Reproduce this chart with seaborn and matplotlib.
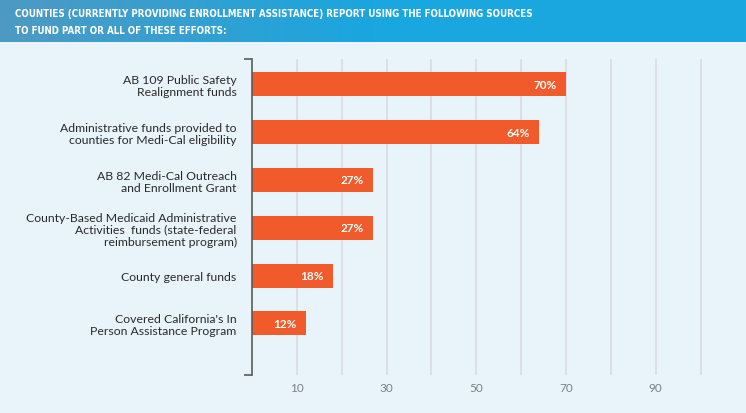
import numpy as np
import pandas as pd
import seaborn as sns
import matplotlib.pyplot as plt
from matplotlib import font_manager as fm
from matplotlib.colors import LinearSegmentedColormap

# values
sources = [
    "AB 109 Public Safety\nRealignment funds",
    "Administrative funds provided to\ncounties for Medi-Cal eligibility",
    "AB 82 Medi-Cal Outreach\nand Enrollment Grant",
    "County-Based Medicaid Administrative\nActivities  funds (state-federal\nreimbursement program)",
    "County general funds",
    "Covered California's In\nPerson Assistance Program",
]
percents = [70, 64, 27, 27, 18, 12]
major_ticks = [10, 30, 50, 70, 90]
minor_ticks = [20, 40, 60, 80, 100]

title = ("COUNTIES (CURRENTLY PROVIDING ENROLLMENT ASSISTANCE) REPORT USING THE FOLLOWING SOURCES\n"
         "TO FUND PART OR ALL OF THESE EFFORTS:")

BG = "#e9f4fa"
BAR = "#f15a2b"

sns.set_theme(style="white")
plt.rcParams["font.family"] = ["Lato", "DejaVu Sans"]

# the header uses a condensed bold face; look for one that is installed
narrow = [f for f in fm.fontManager.ttflist
          if ("Narrow" in f.name or "Condensed" in f.name or "ondensed" in str(f.stretch))
          and f.weight in ("bold", 700, 600, "semibold")]
if narrow:
    title_font = fm.FontProperties(fname=narrow[0].fname, size=7.0)
else:
    title_font = fm.FontProperties(family="Lato", weight="bold", size=7.2)

df = pd.DataFrame({"source": sources, "pct": percents})

fig = plt.figure(figsize=(7.46, 4.14), dpi=100, facecolor=BG)

# header band with gradient
hdr = fig.add_axes([0, 1 - 43 / 414, 1, 43 / 414])
grad = np.linspace(0, 1, 256).reshape(1, -1)
cmap = LinearSegmentedColormap.from_list("hdr", ["#4d9ac3", "#1aa6df", "#1ba8e0"])
hdr.imshow(grad, aspect="auto", cmap=cmap, extent=[0, 1, 0, 1])
hdr.set_axis_off()
fig.text(15 / 746, 1 - 9 / 414, title, color="white", fontproperties=title_font,
         va="top", ha="left", linespacing=1.85)

ax = fig.add_axes([252 / 746, 1 - 376 / 414, (723 - 252) / 746, (376 - 60) / 414])
ax.set_facecolor(BG)
sns.barplot(data=df, x="pct", y="source", orient="h", color=BAR, width=0.5,
            saturation=1, edgecolor="none", ax=ax, zorder=3)

ax.set_xlim(0, 105)
ax.set_ylim(6.08, -0.53)
ax.set_xticks(major_ticks)
ax.set_xticks(minor_ticks, minor=True)
ax.grid(axis="x", which="both", color="#d9dde2", lw=1.2, zorder=0)
ax.set_xlabel("")
ax.set_ylabel("")

for s in ["top", "right", "bottom"]:
    ax.spines[s].set_visible(False)
ax.spines["left"].set_color("#5a5a5a")
ax.spines["left"].set_linewidth(1.2)
ax.spines["left"].set_zorder(4)
# small caps at the ends of the y axis line
for yy in (0, 1):
    ax.plot([-0.016, 0], [yy, yy], transform=ax.transAxes, color="#5a5a5a",
            lw=1.2, clip_on=False, solid_capstyle="butt")

ax.tick_params(axis="y", length=0, pad=11, labelsize=8.8, labelcolor="#2a2a2a")
for lbl in ax.get_yticklabels():
    lbl.set_linespacing(1.1)
ax.tick_params(axis="x", which="both", length=0, pad=5, labelsize=8.5, labelcolor="#7c7f88")

for i, v in enumerate(percents):
    ax.annotate(f"{v}%", xy=(v, i), xytext=(-6.5, 0), textcoords="offset points",
                ha="right", va="center", color="white", fontsize=8.5, fontweight="bold",
                zorder=5)

fig.savefig("out.png", dpi=100, facecolor=BG)
